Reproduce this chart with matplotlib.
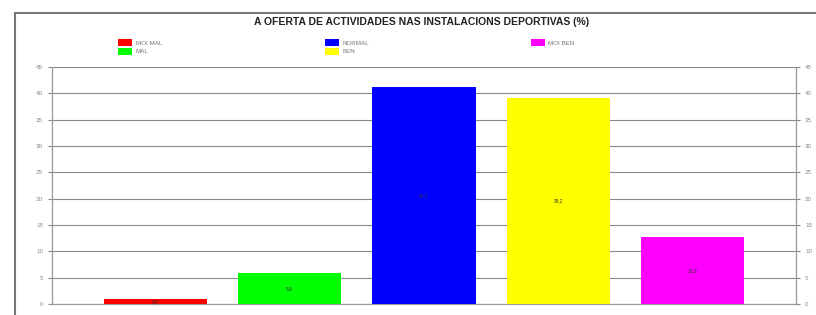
import matplotlib.pyplot as plt
from matplotlib.patches import Patch, Rectangle

categorias = ["MOI MAL", "MAL", "NORMAL", "BEN", "MOI BEN"]
valores = [0.9, 5.9, 41.2, 39.2, 12.8]
cores = ["#ff0000", "#00ff00", "#0000ff", "#ffff00", "#ff00ff"]
etiquetas = ["0,9", "5,9", "41,2", "39,2", "12,8"]
marcas_y = [0, 5, 10, 15, 20, 25, 30, 35, 40, 45]

plt.rcParams['font.family'] = ['Liberation Sans', 'DejaVu Sans']

fig = plt.figure(figsize=(8.16, 3.15), dpi=100)
ax = fig.add_axes([52/816, 1-304/315, (796-52)/816, (304-67)/315])

x = list(range(len(valores)))
barras = ax.bar(x, valores, width=0.77, color=cores, edgecolor='none', zorder=3)
for b, t in zip(barras, etiquetas):
    ax.text(b.get_x() + b.get_width()/2, b.get_height()/2, t,
            ha='center', va='center', fontsize=3.5, color='#333333', zorder=4)

ax.set_xlim(-0.77, 4.77)
ax.set_ylim(0, 45)
ax.set_yticks(marcas_y)
ax.set_xticks([])
ax.yaxis.grid(True, color='#888888', linewidth=0.8, zorder=0)
ax.tick_params(axis='y', labelsize=4.5, colors='#888888', length=3, width=0.8,
               left=True, right=True, labelleft=True, labelright=True, direction='out')
ax.spines['top'].set_visible(False)
for s in ['left', 'right', 'bottom']:
    ax.spines[s].set_color('#999999')
    ax.spines[s].set_linewidth(0.9)

fig.text(422/816, 1-22/315, "A OFERTA DE ACTIVIDADES NAS INSTALACIONS DEPORTIVAS (%)",
         ha='center', va='center', fontsize=7.5, fontweight='bold', color='#222222')

# lenda en tres columnas
columnas = [[0, 1], [2, 3], [4]]
xcol = [118, 325, 531]
for xc, idx in zip(xcol, columnas):
    h = [Patch(facecolor=cores[i], edgecolor='none') for i in idx]
    lg = fig.legend(h, [categorias[i] for i in idx], loc='upper left',
                    bbox_to_anchor=(xc/816, 1-39/315), frameon=False,
                    fontsize=4.5, handlelength=2.2, handleheight=1.4,
                    handletextpad=0.6, labelspacing=0.25, borderpad=0,
                    borderaxespad=0)
    for t in lg.get_texts():
        t.set_color('#777777')

fig.patches.append(Rectangle((15/816, -0.1), 1.2, 1 - 13/315 + 0.1,
                             transform=fig.transFigure, fill=False,
                             edgecolor='#777777', linewidth=1.5))

fig.savefig("out.png", dpi=100)
